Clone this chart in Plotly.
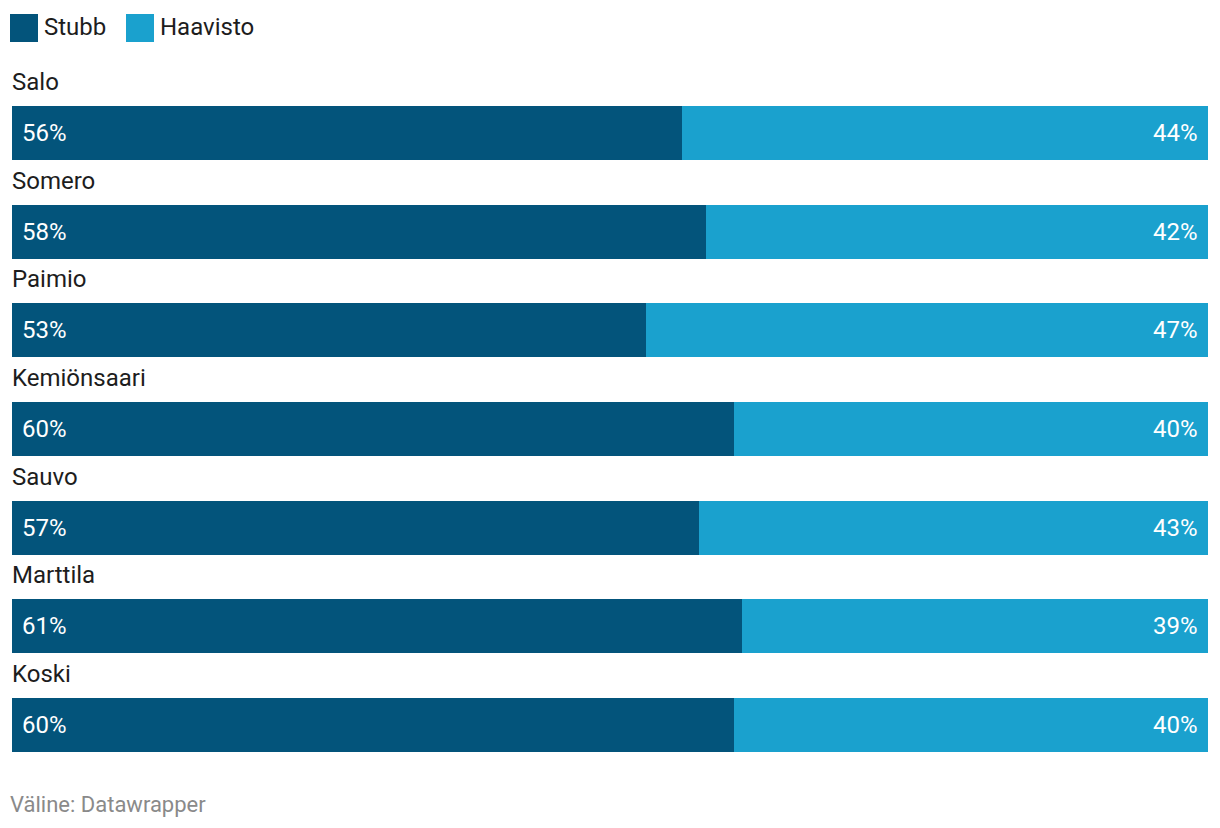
import plotly.graph_objects as go

municipalities = ["Salo", "Somero", "Paimio", "Kemiönsaari", "Sauvo", "Marttila", "Koski"]
stubb = [56.0, 58.0, 53.0, 60.4, 57.4, 61.0, 60.4]
haavisto = [44.0, 42.0, 47.0, 39.6, 42.6, 39.0, 39.6]
series_names = ["Stubb", "Haavisto"]
source_text = "Väline: Datawrapper"

DARK = "#03547b"
LIGHT = "#1aa1ce"
FONT = "Roboto"

# page body has an 8px margin; compensate so the figure lands at the reference positions
OFF = 8
PLOT_H = 690
PLOT_W = 1196
TOP = 84 - OFF

fig = go.Figure()
fig.add_trace(go.Bar(y=municipalities, x=stubb, orientation="h", name=series_names[0],
                     marker=dict(color=DARK, line=dict(width=0)), width=0.547,
                     hoverinfo="x+name"))
fig.add_trace(go.Bar(y=municipalities, x=haavisto, orientation="h", name=series_names[1],
                     marker=dict(color=LIGHT, line=dict(width=0)), width=0.547,
                     hoverinfo="x+name"))

annotations = []
for m, s, h in zip(municipalities, stubb, haavisto):
    annotations.append(dict(x=0, y=m, xref="x", yref="y", text=m, showarrow=False,
                            xanchor="left", yanchor="middle", yshift=51, xshift=-2,
                            font=dict(family=FONT, size=24, color="#1d1d1d")))
    annotations.append(dict(x=0, y=m, xref="x", yref="y", text=f"{s:.0f}%", showarrow=False,
                            xanchor="left", yanchor="middle", xshift=8,
                            font=dict(family=FONT, size=24, color="white")))
    annotations.append(dict(x=s + h, y=m, xref="x", yref="y", text=f"{h:.0f}%", showarrow=False,
                            xanchor="right", yanchor="middle", xshift=-8,
                            font=dict(family=FONT, size=24, color="white")))

# custom legend (positions in reference pixels, converted to paper coords)
def px_x(x):
    return (x - 12) / PLOT_W

def px_y(y):
    return 1 + (84 - y) / PLOT_H

shapes = []
for name, color, x0, tx in [(series_names[0], DARK, 10, 42), (series_names[1], LIGHT, 126, 158)]:
    shapes.append(dict(type="rect", xref="paper", yref="paper",
                       x0=px_x(x0), x1=px_x(x0 + 28), y0=px_y(42), y1=px_y(14),
                       fillcolor=color, line=dict(width=0)))
    annotations.append(dict(x=px_x(tx), y=px_y(27), xref="paper", yref="paper",
                            text=name, showarrow=False, xanchor="left", yanchor="middle",
                            font=dict(family=FONT, size=24, color="#1d1d1d")))

annotations.append(dict(x=px_x(8), y=px_y(804), xref="paper", yref="paper",
                        text=source_text, showarrow=False, xanchor="left", yanchor="middle",
                        font=dict(family=FONT, size=22, color="#8a8a8a")))

fig.update_layout(
    width=1220 - OFF, height=828 - OFF,
    barmode="stack",
    margin=dict(l=12 - OFF, r=1220 - OFF - (12 - OFF) - PLOT_W, t=TOP, b=828 - OFF - TOP - PLOT_H),
    paper_bgcolor="white", plot_bgcolor="white",
    showlegend=False,
    xaxis=dict(range=[0, 100], visible=False, fixedrange=True),
    yaxis=dict(range=[len(municipalities) - 0.5, -0.5], visible=False, fixedrange=True),
    annotations=annotations,
    shapes=shapes,
    font=dict(family=FONT),
)

fig.write_html("out.html")
